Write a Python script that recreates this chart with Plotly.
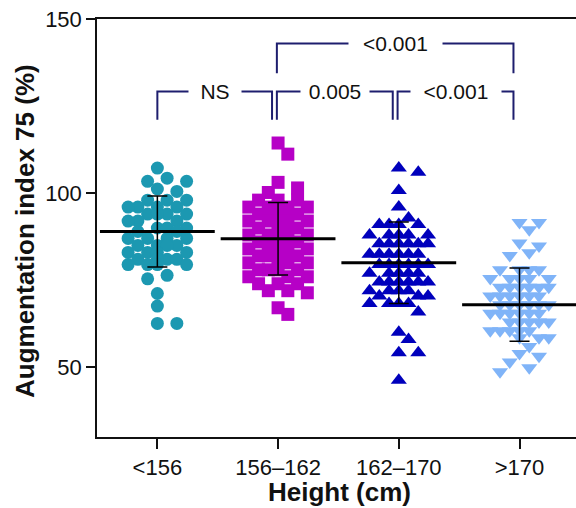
import plotly.graph_objects as go

# ---------------- data ----------------
categories = ["<156", "156\u2013162", "162\u2013170", ">170"]

g1_values = [107.2, 104.3, 103.4, 103.4, 101.2, 100.5,
             98, 98, 98, 96, 96, 96, 96, 94, 94, 94, 94, 92, 92, 92, 90, 90, 90,
             89, 89,
             87, 87, 87, 87, 85, 85, 85, 85, 83, 83, 83, 83, 81, 81, 81, 81,
             79.5, 79.5, 79.5, 79.5,
             76.4, 75.4, 71.2, 67.6, 62.6, 62.6]
g2_values = [114.4, 111.2, 103.1, 101.5, 100.2,
             98, 98, 98, 96, 96, 96, 96, 96, 94, 94, 94, 94, 94, 92, 92, 92, 92, 92,
             90, 90, 90, 90, 88, 88, 88, 88, 88, 86, 86, 86, 86, 86, 84, 84, 84, 84, 84,
             82, 82, 82, 82, 82, 80, 80, 80, 80, 78, 78, 78, 78, 76, 76, 76, 74, 74, 74,
             72, 72, 71.4, 67.1, 65.2]
g3_values = [107.2, 106, 100.8, 96, 92.9,
             91, 91, 91, 91, 88, 88, 88, 88, 88, 85.5, 85.5, 85.5, 85.5, 85.5, 85.5,
             82.5, 82.5, 82.5, 82.5, 82.5, 82.5, 79.5, 79.5, 79.5, 79.5, 79.5, 79.5,
             77, 77, 77, 77, 77, 74.5, 74.5, 74.5, 74.5, 74.5, 74.5, 72, 72, 72, 72,
             70.5, 70.5, 70.5, 68.3, 68.3, 68.3, 68.3,
             65.9, 60.1, 58, 54.2, 54.2, 46.3]
g4_values = [91.6, 91.6, 89.5, 85.7, 84.8, 82.9, 82.1,
             78, 78, 78, 78, 75.5, 75.5, 75.5, 75.5, 75.5, 73, 73, 73, 73, 73, 73,
             70.5, 70.5, 70.5, 70.5, 70.5, 70.5, 68, 68, 68, 68, 68, 68,
             65.5, 65.5, 65.5, 65.5, 65.5, 65.5, 63, 63, 63, 63, 63,
             60.5, 60.5, 60.5, 60.5, 60.5, 58.5, 58.5, 58.5,
             56, 54, 53.2, 51.5, 49.9, 48.7]
group_values = [g1_values, g2_values, g3_values, g4_values]

means = [89.0, 86.9, 80.0, 68.0]
sds = [10.2, 10.4, 11.7, 10.5]

y_ticks = [50, 100, 150]

# significance brackets: (left group, right group, label, level)
brackets = [(0, 1, "NS", 0), (1, 2, "0.005", 0), (2, 3, "<0.001", 0), (1, 3, "<0.001", 1)]

# ---------------- styling ----------------
colors = ["#1C98B1", "#B600C6", "#0000BC", "#80B4F8"]
symbols = ["circle", "square", "triangle-up", "triangle-down"]
sizes = [13, 13, 14, 14]
bracket_color = "#1E1E6E"
FONT = "Liberation Sans, Arial, sans-serif"
TXT = "#111111"

W, H = 576, 508
ML, MR, MT, MB = 97, 0, 19, 71
XR = [-0.5, 3.468]
YR = [30, 150]
xpx = (W - ML - MR) / (XR[1] - XR[0])
ypx = (H - MT - MB) / (YR[1] - YR[0])


def swarm(vals, dmin=11.5, step=9.75, kmax=3):
    """Greedy beeswarm on a grid of horizontal slots (pixel space)."""
    order = sorted(range(len(vals)), key=lambda i: -vals[i])
    cands = [0]
    for k in range(1, kmax + 1):
        cands += [k, -k]
    placed, offs = [], [0.0] * len(vals)
    for i in order:
        yp = vals[i] * ypx
        best, bestd = 0, -1.0
        for c in cands:
            xo = c * step
            d = min([((xo - px) ** 2 + (yp - py) ** 2) ** 0.5 for px, py in placed] or [1e9])
            if d >= dmin:
                best = xo
                break
            if d > bestd:
                bestd, best = d, xo
        placed.append((best, yp))
        offs[i] = best / xpx
    return offs


fig = go.Figure()

for gi, vals in enumerate(group_values):
    offs = swarm(vals)
    fig.add_trace(go.Scatter(
        x=[gi + o for o in offs], y=vals, mode="markers",
        marker=dict(symbol=symbols[gi], size=sizes[gi], color=colors[gi],
                    line=dict(width=0)),
        showlegend=False, hoverinfo="y"))

# mean +/- SD
fig.add_trace(go.Scatter(
    x=list(range(len(categories))), y=means, mode="markers",
    marker=dict(symbol="line-ew", size=82, color="black",
                line=dict(width=3, color="black")),
    error_y=dict(type="data", array=sds, visible=True, color="black",
                 thickness=1.5, width=10),
    showlegend=False, hoverinfo="y"))

# brackets
level_y = [(129.2, 121.1), (143.0, 134.4)]
gap_w = {("NS", 0): 52, ("0.005", 0): 68, ("<0.001", 0): 90, ("<0.001", 1): 93}
for a, b, label, lev in brackets:
    x0 = a - 0.01 if a > 0 else a
    x1 = b - 0.05
    yh, yl = level_y[lev]
    line = dict(color=bracket_color, width=2)
    fig.add_shape(type="path",
                  path=f"M {x0},{yl} L {x0},{yh} L {x1},{yh} L {x1},{yl}",
                  xref="x", yref="y", line=line)
    fig.add_annotation(x=(x0 + x1) / 2, y=yh, xref="x", yref="y", text=label,
                       showarrow=False, bgcolor="white", width=gap_w[(label, lev)],
                       borderpad=0, font=dict(family=FONT, size=21, color=TXT),
                       xanchor="center", yanchor="middle")

# axis titles
fig.add_annotation(text="<b>Height (cm)</b>", xref="paper", yref="paper",
                   x=0.5, xshift=3, y=0, yshift=-55, xanchor="center", yanchor="middle",
                   showarrow=False, font=dict(family=FONT, size=26, color=TXT))
fig.add_annotation(text="<b>Augmentation index 75 (%)</b>", xref="paper", yref="paper",
                   x=0, xshift=-72, y=0.5, yshift=-3, textangle=-90,
                   xanchor="center", yanchor="middle", showarrow=False,
                   font=dict(family=FONT, size=26, color=TXT))

fig.update_layout(
    width=W, height=H, margin=dict(l=ML, r=MR, t=MT, b=MB),
    plot_bgcolor="white", paper_bgcolor="white",
    font=dict(family=FONT, color=TXT),
    showlegend=False,
    xaxis=dict(range=XR, tickmode="array", tickvals=list(range(len(categories))),
               ticktext=categories, showgrid=False, zeroline=False, automargin=False,
               showline=True, mirror=True, linecolor=TXT, linewidth=1.5,
               ticks="outside", ticklen=10, tickwidth=1.5, tickcolor=TXT,
               tickfont=dict(size=22, family=FONT, color=TXT)),
    yaxis=dict(range=YR, tickvals=y_ticks, showgrid=False, zeroline=False, automargin=False,
               showline=True, linecolor=TXT, linewidth=1.5,
               ticks="outside", ticklen=9, tickwidth=1.5, tickcolor=TXT,
               tickfont=dict(size=22, family=FONT, color=TXT)),
)

fig.write_html("out.html", config={"displayModeBar": False},
               post_script="document.body.style.margin='0';document.body.style.padding='0';")
